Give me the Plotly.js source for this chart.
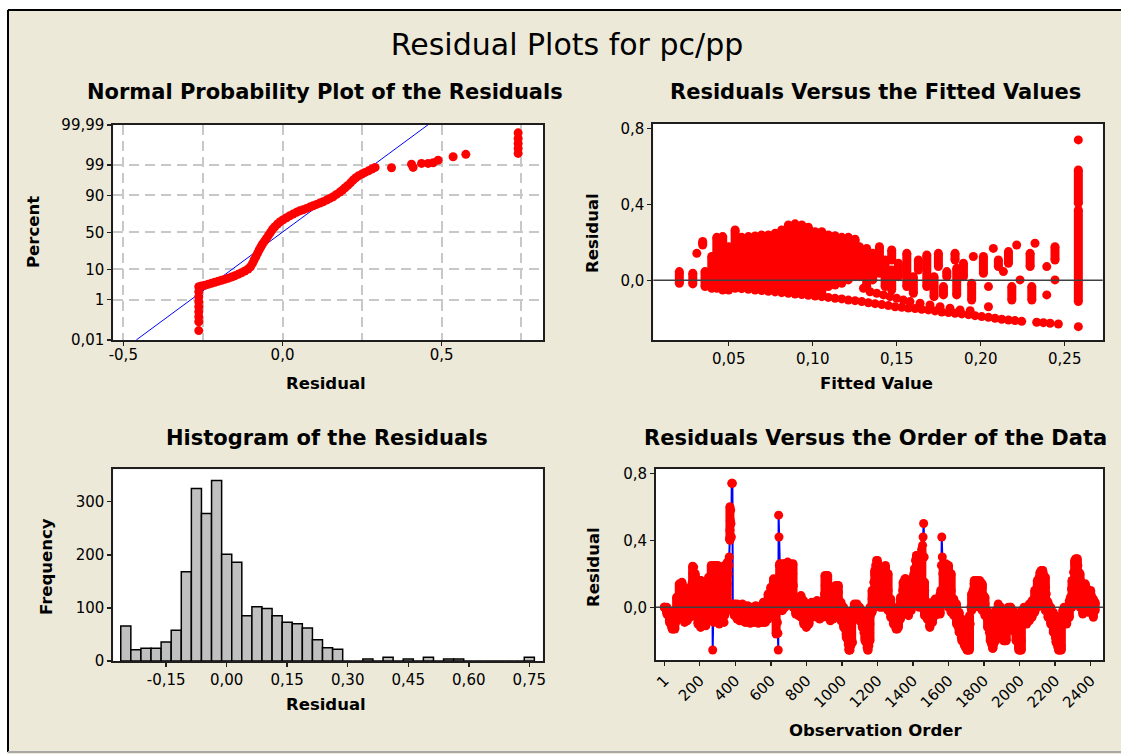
<!DOCTYPE html>
<html><head><meta charset="utf-8">
<script src="https://cdn.plot.ly/plotly-3.0.1.min.js"></script>
<style>html,body{margin:0;padding:0;background:#fff;}#chart{width:1121px;height:754px;}</style>
</head><body><div id="chart"></div>
<script>
// ---------------- DATA ----------------
const mainTitle = 'Residual Plots for pc/pp';
const panelTitles = ['Normal Probability Plot of the Residuals','Residuals Versus the Fitted Values','Histogram of the Residuals','Residuals Versus the Order of the Data'];

// Normal probability plot: residual vs cumulative percent
const npResid = [-0.263,-0.263,-0.263,-0.263,-0.263,-0.263,-0.263,-0.263,-0.263,
 -0.2544,-0.2440,-0.2337,-0.2230,-0.2126,-0.2023,-0.1916,-0.1812,-0.1709,-0.1602,-0.1498,-0.1394,-0.1288,-0.1184,-0.1080,-0.1005,
 -0.0942,-0.0892,-0.0839,-0.0785,-0.0735,-0.0682,-0.0628,-0.0565,-0.0503,-0.0440,-0.0377,-0.0314,-0.0242,-0.0157,-0.0075,
 0.0019,0.0126,0.0229,0.0333,0.0440,0.0543,0.0647,0.0754,0.0857,0.0961,0.1068,0.1171,0.1275,0.1382,0.1486,0.1589,0.1696,0.1800,
 0.1884,0.1966,0.2051,0.2136,0.2217,0.2302,0.2387,0.2491,0.2594,0.2701,0.2805,0.2908,
 0.3423,0.4052,0.4102,0.4366,0.4573,0.4730,0.4887,0.5358,0.5757,0.74,0.74,0.74,0.74,0.74];
const npPct = [0.034,0.10,0.178,0.304,0.508,0.826,1.30,2.01,3.01,
 3.18,3.36,3.62,3.90,4.21,4.52,4.87,5.22,5.60,6.13,6.69,7.34,8.14,9.06,10.24,11.74,
 14.21,16.93,19.96,23.42,27.06,30.57,34.31,38.17,41.80,45.86,50.00,54.14,57.65,61.29,64.28,
 66.82,69.29,71.67,73.63,75.52,77.22,78.26,79.64,80.90,82.10,83.32,84.42,85.47,86.78,87.98,89.07,90.54,91.80,
 92.80,93.83,94.77,95.66,96.46,97.04,97.47,97.80,98.09,98.33,98.56,98.76,
 98.72,99.08,98.76,99.14,99.14,99.19,99.37,99.55,99.65,99.971,99.942,99.894,99.815,99.682];
const npFitResid = [-0.459, 0.457];
const npFitPct = [0.01, 99.99];
const npTickPct = [0.01,1,10,50,90,99,99.99];
const npTickText = ['0,01','1','10','50','90','99','99,99'];
const npXTicks = [-0.5,0,0.5];
const npXText = ['-0,5','0,0','0,5'];
const npXGrid = [-0.5,-0.25,0,0.25,0.5,0.75];

// Residuals vs fitted: vertical runs of stacked points (fitted value, top residual, bottom residual)
const fvColX  = [0.0206,0.0286,0.0345,0.0359,0.0399,0.0429,0.0464,0.0500,0.0538,0.0577,0.0617,0.0657,0.0696,0.0736,0.0776,0.0815,0.0855,0.0895,0.0935,0.0974,0.1014,0.1054,0.1093,0.1133,0.1173,0.1212,0.1252,
 0.1278,0.1321,0.1357,0.1397,0.1431,0.1470,0.1470,0.1510,0.1560,0.1599,0.1629,0.1679,0.1722,0.1748,0.1778,0.1798,0.1847,0.1857,0.1897,0.1946,0.2016,0.2105,0.2165,0.2185,0.2294,0.2304,0.2442,0.2581,0.2581];
const fvColHi = [0.046,0.037,0.204,0.046,0.125,0.226,0.230,0.177,0.265,0.226,0.230,0.233,0.239,0.239,0.247,0.265,0.291,0.297,0.291,0.279,0.256,0.256,0.239,0.235,0.226,0.226,0.216,
 0.177,0.168,0.142,0.177,0.107,0.160,0.054,0.090,0.142,0.019,0.107,0.133,0.019,0.142,-0.033,0.046,0.142,0.063,0.090,-0.016,0.125,0.107,0.151,-0.033,0.142,-0.033,0.177,0.581,0.370];
const fvColLo = [-0.016,-0.019,0.186,-0.033,-0.042,-0.042,-0.051,-0.051,-0.042,-0.044,-0.047,-0.051,-0.054,-0.058,-0.061,-0.065,-0.068,-0.072,-0.075,-0.079,-0.083,-0.086,-0.033,-0.025,-0.016,0.002,0.019,
 0.019,-0.033,0.002,0.037,-0.033,0.107,-0.051,0.019,-0.033,-0.068,0.054,-0.033,-0.086,0.072,-0.077,0.019,0.107,-0.077,0.019,-0.104,0.037,0.072,0.090,-0.104,0.072,-0.104,0.107,0.405,-0.112];
// single points
const fvDotX = [0.0310,0.1956,0.2046,0.2046,0.2075,0.2135,0.2214,0.2234,0.2323,0.2393,0.2393,0.2442,0.2581,0.2581,
 0.1093,0.1133,0.1173,0.1212,0.1252,0.1292,0.1331,0.1371,0.1411,0.1450,0.1490,0.1530,0.1569,0.1609,0.1649,0.1688,0.1728,0.1768,0.1808,0.1847,0.1887,0.1927,0.1966,0.2006,0.2046,0.2085,0.2125,0.2165,0.2204,0.2244,0.2333,0.2373,0.2413,0.2462,
 0.1302,0.1341,0.1381,0.1421,0.1460,0.1500,0.1540,0.1579,0.1639,0.1698,0.1758,0.1817,0.1877,0.1937];
const fvDotY = [0.142,0.125,-0.033,-0.139,0.168,0.046,0.186,0.002,0.195,0.072,-0.077,0.002,0.739,-0.244,
 -0.090,-0.095,-0.098,-0.104,-0.107,-0.112,-0.118,-0.123,-0.128,-0.133,-0.139,-0.142,-0.146,-0.149,-0.153,-0.156,-0.161,-0.167,-0.170,-0.174,-0.177,-0.181,-0.186,-0.191,-0.195,-0.200,-0.205,-0.209,-0.212,-0.216,-0.221,-0.223,-0.226,-0.230,
 -0.042,-0.060,-0.068,-0.077,-0.086,-0.095,-0.104,-0.112,-0.121,-0.130,-0.139,-0.147,-0.156,-0.160];
const fvXTicks = [0.05,0.10,0.15,0.20,0.25];
const fvXText = ['0,05','0,10','0,15','0,20','0,25'];
const residTicks = [0,0.4,0.8];
const residText = ['0,0','0,4','0,8'];

// Histogram
const histBins = [-0.25,-0.225,-0.2,-0.175,-0.15,-0.125,-0.1,-0.075,-0.05,-0.025,0,0.025,0.05,0.075,0.1,0.125,0.15,0.175,0.2,0.225,0.25,0.275,0.3,0.325,0.35,0.375,0.4,0.425,0.45,0.475,0.5,0.525,0.55,0.575,0.6,0.625,0.65,0.675,0.7,0.725,0.75];
const histCounts = [66,21,24,24,36,58,168,325,278,340,201,186,85,102,99,85,73,70,62,40,25,22,0,0,4,0,7,0,4,0,7,0,4,4,0,0,0,0,0,0,7];
const histXTicks = [-0.15,0,0.15,0.30,0.45,0.60,0.75];
const histXText = ['-0,15','0,00','0,15','0,30','0,45','0,60','0,75'];
const histYTicks = [0,100,200,300];
const histYText = ['0','100','200','300'];

// Residuals vs order: the connected sequence (spikes, individual jumps)
const orderObs = [
 1,8,15,22,29,36,43,50,57,64,70,76,82,88,94,100,106,112,118,124,130,136,142,
 146,150,154,158,162,166,170,174,178,182,
 186,190,195,200,205,210,215,220,225,230,235,240,245,250,255,260,264,268,271,273,
 277,282,287,292,297,302,307,312,317,322,327,332,337,342,347,352,356,360,364,
 366,368,370,372,374,376,378,380,384,386,
 390,400,410,420,430,440,450,460,470,480,490,500,510,520,530,540,550,560,570,580,590,600,606,612,618,622,626,630,634,637,640,642,644,646,648,
 652,656,660,664,668,672,676,680,685,690,695,700,705,710,715,720,724,727,730,735,
 740,748,756,764,772,780,788,796,804,812,820,828,836,844,852,860,868,876,884,892,898,
 902,906,910,914,918,922,926,930,934,940,946,
 952,958,964,968,972,976,980,984,988,994,1000,1006,1012,1018,1024,1030,1036,1040,1046,1050,1052,1054,1056,1058,1060,1064,1070,1078,1086,1094,1102,1110,1118,1124,1130,1136,1142,1148,1152,1156,1158,1160,
 1165,1170,1175,1180,1185,1190,1195,1200,1205,1210,1215,1220,1225,1230,1235,1240,1245,1250,1255,1260,1265,1270,1276,1282,1290,1298,1306,1312,1318,
 1324,1330,1336,1342,1348,1354,1360,1366,1372,1378,1384,1390,1396,1402,1408,1414,1420,1426,1432,1438,1442,1446,1450,1454,1457,1460,1463,1466,1470,
 1478,1486,1494,1502,1510,1518,1526,1534,1542,1550,
 1556,1560,1562,1565,1568,1572,1576,1580,1585,1590,1595,1600,1605,1610,1615,1620,1626,
 1632,1640,1648,1656,1664,1672,1680,1688,1696,1704,1712,1718,1722,1726,
 1732,1738,1744,1750,1758,1766,1774,1782,1790,1798,1806,1812,
 1818,1824,1830,1836,1842,1848,1854,1860,1866,1872,
 1880,1888,1896,1904,1910,1916,1922,1928,1934,1940,
 1948,1956,1964,1972,1980,1988,1994,2000,2006,2010,2014,2018,
 2026,2034,2042,2050,2058,2066,2074,2080,2086,2092,2098,2104,2110,2116,2122,2128,2134,2140,2146,2150,2154,
 2160,2166,2172,2178,2184,2190,2196,2202,2208,2214,2220,2228,2234,2238,2242,
 2250,2258,2266,2274,2280,
 2286,2292,2298,2304,2310,2316,2322,2328,2334,2340,2346,2352,2356,
 2362,2368,2374,2380,2386,2392,2398,2404,2410,2416,2420,2425];
const orderResid = [
 0,-0.01,-0.03,-0.05,-0.08,-0.10,-0.12,-0.13,-0.12,-0.09,-0.05,-0.01,0.03,0.07,0.11,0.14,0.12,0.08,0.05,0.02,-0.01,-0.03,-0.05,
 0,0.05,0.10,0.15,0.20,0.24,0.20,0.15,0.10,0.05,
 0,0.04,0.08,0.12,0.16,0.11,0.06,0.01,-0.04,-0.08,-0.11,-0.07,-0.02,0.03,0.08,0.12,0.16,0.21,0.25,-0.255,
 0,0.05,0.10,0.15,0.20,0.25,0.20,0.15,0.10,0.05,0,-0.05,-0.09,-0.04,0.02,0.08,0.14,0.20,0.25,
 0.30,0.41,0.46,0.52,0.58,0.50,0.42,0.74,0.74,0.02,
 0.01,-0.01,0,-0.03,-0.05,-0.03,-0.06,-0.08,-0.05,-0.07,-0.09,-0.06,-0.08,-0.05,-0.07,-0.09,-0.06,-0.04,-0.07,-0.03,0,0.04,0.08,0.12,0.16,0.13,0.08,0.03,-0.03,-0.09,-0.155,-0.255,0.55,0.42,0.25,
 0.20,0.15,0.10,0.05,0.10,0.16,0.22,0.26,0.22,0.17,0.22,0.26,0.22,0.18,0.22,0.25,0.20,0.13,0.03,0,
 -0.02,0.02,0.05,0.06,0.04,0,-0.05,-0.09,-0.11,-0.08,-0.04,-0.01,0.01,0,-0.03,0,0.02,-0.02,-0.05,-0.02,0.03,
 0.08,0.13,0.18,0.19,0.15,0.10,0.05,0,-0.05,-0.02,0.02,
 0,-0.05,0,0.05,0.10,0.13,0.09,0.04,0,-0.04,-0.06,-0.09,-0.10,-0.13,-0.16,-0.19,-0.22,-0.255,-0.255,-0.23,-0.17,-0.11,-0.05,-0.02,-0.21,-0.02,0,-0.02,-0.04,-0.07,-0.05,-0.09,-0.12,-0.15,-0.18,-0.21,-0.24,-0.255,-0.23,-0.15,-0.10,-0.05,
 0,0.05,0.10,0.15,0.20,0.25,0.28,0.27,0.23,0.18,0.13,0.08,0.04,0.10,0.16,0.21,0.24,0.20,0.15,0.10,0.05,0,-0.03,-0.06,-0.08,-0.10,-0.12,-0.13,-0.10,
 -0.05,0,0.05,0.10,0.14,0.17,0.13,0.08,0.03,-0.01,0.03,0.08,0.13,0.18,0.23,0.28,0.31,0.27,0.22,0.17,0.22,0.27,0.33,0.37,0.42,0.50,0.30,0.10,0.03,
 -0.02,-0.06,-0.11,-0.08,-0.04,-0.01,0.02,0.03,0,0.02,
 0.10,0.25,0.42,0.30,0.20,0.12,0.06,0.12,0.18,0.22,0.25,0.21,0.17,0.13,0.10,0.05,0,
 0,-0.04,-0.08,-0.12,-0.15,-0.18,-0.20,-0.22,-0.24,-0.255,-0.255,-0.22,-0.10,0,
 0.05,0.10,0.14,0.16,0.12,0.08,0.12,0.15,0.12,0.07,0.02,-0.03,
 -0.07,-0.11,-0.15,-0.19,-0.22,-0.245,-0.22,-0.15,-0.08,-0.03,
 0,-0.04,-0.09,-0.14,-0.18,-0.20,-0.17,-0.12,-0.07,-0.02,
 0,-0.04,-0.08,-0.12,-0.16,-0.20,-0.235,-0.255,-0.255,-0.20,-0.10,-0.02,
 -0.04,-0.02,-0.06,-0.03,0,-0.03,0,0.03,0.06,0.09,0.12,0.15,0.18,0.20,0.22,0.22,0.20,0.16,0.12,0.08,0.04,
 0,-0.04,-0.07,-0.05,-0.09,-0.12,-0.15,-0.18,-0.21,-0.235,-0.255,-0.255,-0.23,-0.10,-0.02,
 -0.05,-0.08,-0.05,-0.02,0.02,
 0.06,0.11,0.16,0.21,0.26,0.29,0.28,0.25,0.21,0.17,0.14,0.10,0.06,
 0.10,0.13,0.12,0.08,0.04,0.06,0.09,0.07,0.02,-0.03,0,0.02];
// Residuals vs order: spread (lowest / highest residual) of the densely packed points around each observation
const bandObs = [
 1,15,30,45,60,70,85,100,115,130,145,160,175,190,205,220,235,250,265,280,295,310,325,340,355,370,
 395,410,425,440,455,470,485,500,515,530,545,558,
 570,585,600,615,630,
 650,665,680,695,710,725,740,
 755,770,785,800,815,830,845,860,875,890,
 905,920,935,
 950,965,980,995,1010,1025,
 1040,1055,1070,
 1085,1100,1115,1130,1145,1158,
 1170,1185,1200,1215,1230,1245,1260,1275,
 1290,1305,1318,
 1330,1345,1360,1375,1390,
 1405,1420,1435,1450,1465,
 1480,1495,1510,1525,1540,1553,
 1570,1585,1600,1615,1630,
 1645,1660,1675,1690,1705,1718,
 1730,1745,1760,1775,1790,1805,
 1820,1835,1850,1865,
 1880,1895,1910,1925,1937,
 1950,1965,1980,1995,
 2010,2025,2040,2055,
 2070,2085,2100,2115,2130,2145,
 2160,2175,2190,2205,2220,2235,
 2250,2265,2280,
 2295,2310,2325,2340,
 2355,2370,2385,2400,2415,2425];
const bandLo = [
 0,-0.04,-0.09,-0.13,-0.13,-0.08,-0.04,-0.05,-0.09,-0.08,-0.06,-0.04,-0.05,-0.10,-0.12,-0.11,-0.09,-0.06,-0.08,-0.09,-0.06,-0.10,-0.08,-0.05,-0.02,0.40,
 -0.05,-0.07,-0.08,-0.08,-0.09,-0.09,-0.095,-0.09,-0.09,-0.095,-0.09,-0.09,
 -0.09,-0.07,-0.04,-0.02,-0.16,
 0.05,-0.02,0,0.02,0.05,0,-0.04,
 -0.05,-0.06,-0.10,-0.12,-0.10,-0.06,-0.05,-0.06,-0.07,-0.06,
 -0.04,-0.06,-0.08,
 -0.07,-0.06,-0.05,-0.08,-0.12,-0.18,
 -0.255,-0.20,-0.06,
 -0.06,-0.08,-0.12,-0.20,-0.255,-0.20,
 -0.03,0,0.02,0,0,0.02,-0.02,-0.06,
 -0.10,-0.13,-0.12,
 -0.07,-0.04,-0.03,-0.05,-0.02,
 0.02,0.05,0,0,-0.05,
 -0.07,-0.12,-0.09,-0.05,-0.04,-0.04,
 0.05,0.03,0,-0.03,-0.05,
 -0.10,-0.15,-0.20,-0.23,-0.255,-0.255,
 -0.02,0,0.02,0,-0.02,-0.05,
 -0.12,-0.20,-0.245,-0.20,
 -0.08,-0.14,-0.20,-0.20,-0.10,
 -0.10,-0.14,-0.20,-0.255,
 -0.255,-0.08,-0.10,-0.08,
 -0.06,-0.03,0,0.02,0.02,-0.02,
 -0.06,-0.10,-0.15,-0.21,-0.255,-0.255,
 -0.10,-0.10,-0.06,
 0,0.05,0.08,0,
 -0.04,-0.02,-0.03,-0.02,-0.06,-0.02];
const bandHi = [
 0,0,-0.02,-0.04,-0.03,0.06,0.14,0.15,0.08,0.04,0.12,0.245,0.20,0.15,0.16,0.13,0.15,0.18,0.25,0.25,0.25,0.24,0.22,0.25,0.27,0.60,
 0.02,0.02,0.01,0.02,0,0.01,0,0,0.01,0,0.01,0.03,
 0.03,0.08,0.12,0.17,0.14,
 0.26,0.26,0.26,0.27,0.26,0.26,0.05,
 0.06,0.07,0.04,0,0.02,0.03,0.03,0.04,0.02,0.04,
 0.19,0.19,0.04,
 0.03,0.13,0.13,0.03,0,-0.04,
 -0.12,-0.02,0.02,
 0.02,0,-0.02,-0.06,-0.12,0,
 0.10,0.22,0.28,0.20,0.20,0.25,0.20,0.05,
 0,-0.02,0,
 0.06,0.15,0.17,0.10,0.12,
 0.20,0.31,0.30,0.35,0.15,
 0.03,0,0.03,0.05,0.05,0.08,
 0.26,0.26,0.25,0.20,0.05,
 0.02,-0.03,-0.07,-0.10,-0.14,-0.05,
 0.08,0.16,0.16,0.16,0.14,0.06,
 -0.02,-0.06,-0.12,-0.02,
 0.02,0,-0.05,-0.04,0,
 0,-0.02,-0.06,-0.10,
 -0.02,0,0,0.02,
 0.04,0.10,0.16,0.21,0.22,0.18,
 0.03,0,-0.03,-0.08,-0.12,-0.05,
 0,-0.01,0.04,
 0.16,0.28,0.29,0.20,
 0.14,0.14,0.10,0.10,0.05,0.03];
const orderXTicks = [1,200,400,600,800,1000,1200,1400,1600,1800,2000,2200,2400];
const orderXText = ['1','200','400','600','800','1000','1200','1400','1600','1800','2000','2200','2400'];

// ---------------- RENDER ----------------
const W = 1121, H = 754;
const FONT = '"DejaVu Sans", Verdana, sans-serif';
const px = v => v / W;
const py = v => 1 - v / H;

function normInv(p){
  const a=[-3.969683028665376e+01,2.209460984245205e+02,-2.759285104469687e+02,1.383577518672690e+02,-3.066479806614716e+01,2.506628277459239e+00];
  const b=[-5.447609879822406e+01,1.615858368580409e+02,-1.556989798598866e+02,6.680131188771972e+01,-1.328068155288572e+01];
  const c=[-7.784894002430293e-03,-3.223964580411365e-01,-2.400758277161838e+00,-2.549732539343734e+00,4.374664141464968e+00,2.938163982698783e+00];
  const d=[7.784695709041462e-03,3.224671290700398e-01,2.445134137142996e+00,3.754408661907416e+00];
  const pl=0.02425, ph=1-pl; let q,r;
  if(p<pl){q=Math.sqrt(-2*Math.log(p));return (((((c[0]*q+c[1])*q+c[2])*q+c[3])*q+c[4])*q+c[5])/((((d[0]*q+d[1])*q+d[2])*q+d[3])*q+1);}
  if(p>ph){q=Math.sqrt(-2*Math.log(1-p));return -(((((c[0]*q+c[1])*q+c[2])*q+c[3])*q+c[4])*q+c[5])/((((d[0]*q+d[1])*q+d[2])*q+d[3])*q+1);}
  q=p-0.5;r=q*q;return (((((a[0]*r+a[1])*r+a[2])*r+a[3])*r+a[4])*r+a[5])*q/(((((b[0]*r+b[1])*r+b[2])*r+b[3])*r+b[4])*r+1);
}
const probScale = pcts => pcts.map(p => normInv(p / 100));

function runs(xs, lo, hi){
  const X = [], Y = [];
  xs.forEach((x, i) => { X.push(x, x, null); Y.push(lo[i], hi[i], null); });
  return {X, Y};
}
const fvRuns = runs(fvColX, fvColLo, fvColHi);
const bandRuns = runs(bandObs, bandLo, bandHi);

const RED = '#FF0000', BLUE = '#0000FF', FRAME = '#1e1e1e', MS = 9;
const traces = [
  {type:'scatter', mode:'lines', x:npFitResid, y:probScale(npFitPct), xaxis:'x', yaxis:'y',
   line:{color:BLUE, width:1}},
  {type:'scatter', mode:'markers', x:npResid, y:probScale(npPct), xaxis:'x', yaxis:'y',
   marker:{color:RED, size:MS}},
  {type:'scatter', mode:'lines+markers', x:fvRuns.X, y:fvRuns.Y, xaxis:'x2', yaxis:'y2', connectgaps:false,
   line:{color:RED, width:MS}, marker:{color:RED, size:MS}},
  {type:'scatter', mode:'markers', x:fvDotX, y:fvDotY, xaxis:'x2', yaxis:'y2',
   marker:{color:RED, size:MS}},
  {type:'bar', x:histBins, y:histCounts, xaxis:'x3', yaxis:'y3', width:0.025,
   marker:{color:'#C0C0C0', line:{color:'#000', width:1.5}}},
  {type:'scatter', mode:'lines', x:orderObs, y:orderResid, xaxis:'x4', yaxis:'y4',
   line:{color:BLUE, width:2}},
  {type:'scatter', mode:'lines+markers', x:bandRuns.X, y:bandRuns.Y, xaxis:'x4', yaxis:'y4', connectgaps:false,
   line:{color:RED, width:MS}, marker:{color:RED, size:MS}},
  {type:'scatter', mode:'markers', x:orderObs, y:orderResid, xaxis:'x4', yaxis:'y4',
   marker:{color:RED, size:MS}}
];

function ax(extra){
  return Object.assign({showline:true, mirror:true, linecolor:FRAME, linewidth:2,
    ticks:'outside', ticklen:4, tickwidth:1.5, tickcolor:FRAME, showgrid:false, zeroline:false,
    tickmode:'array', tickfont:{family:FONT, size:15, color:'#000'}, fixedrange:true, automargin:false}, extra);
}
const GRID = {showgrid:true, gridcolor:'#C8C8C8', griddash:'10px,6px', gridwidth:2};
const npY = probScale(npTickPct);
const npXGridText = npXGrid.map(v => { const i = npXTicks.indexOf(v); return i >= 0 ? npXText[i] : ''; });

const layout = {
  width:W, height:H, margin:{l:0,r:0,t:0,b:0}, showlegend:false,
  paper_bgcolor:'#ECE9D8', plot_bgcolor:'#FFFFFF', bargap:0,
  title:{text:mainTitle, x:px(567), xanchor:'center', y:py(44), yanchor:'middle',
         font:{family:FONT, size:30, color:'#000'}},
  xaxis: ax(Object.assign({domain:[px(113.3),px(543.3)], anchor:'y', range:[-0.5314,0.819],
          tickvals:npXGrid, ticktext:npXGridText, ticks:'',
          minor:{tickmode:'array', tickvals:npXTicks, ticks:'outside', ticklen:4, tickwidth:1.5, tickcolor:FRAME, showgrid:false}}, GRID)),
  yaxis: ax(Object.assign({domain:[py(340),py(124.7)], anchor:'x', range:[npY[0]-0.003, npY[npY.length-1]+0.003],
          tickvals:npY, ticktext:npTickText}, GRID)),
  xaxis2: ax({domain:[px(653.3),px(1102.7)], anchor:'y2', range:[0.0051,0.2726], tickvals:fvXTicks, ticktext:fvXText}),
  yaxis2: ax({domain:[py(340),py(124)], anchor:'x2', range:[-0.3142,0.8226], tickvals:residTicks, ticktext:residText}),
  xaxis3: ax({domain:[px(113.3),px(542.5)], anchor:'y3', range:[-0.281,0.7827], tickvals:histXTicks, ticktext:histXText}),
  yaxis3: ax({domain:[py(661),py(469.3)], anchor:'x3', range:[0,361], tickvals:histYTicks, ticktext:histYText}),
  xaxis4: ax({domain:[px(656),px(1103.3)], anchor:'y4', range:[-46,2471], tickvals:orderXTicks, ticktext:orderXText, tickangle:-45}),
  yaxis4: ax({domain:[py(660),py(469)], anchor:'x4', range:[-0.3146,0.8257], tickvals:residTicks, ticktext:residText}),
  shapes:[
    {type:'rect', xref:'paper', yref:'paper', x0:0, x1:1, y0:py(9), y1:1, fillcolor:'#FFFFFF', line:{width:0}, layer:'below'},
    {type:'rect', xref:'paper', yref:'paper', x0:0, x1:px(7), y0:0, y1:1, fillcolor:'#FFFFFF', line:{width:0}, layer:'below'},
    {type:'line', xref:'paper', yref:'paper', x0:px(8), x1:1, y0:py(10), y1:py(10), line:{color:'#000', width:2}},
    {type:'line', xref:'paper', yref:'paper', x0:px(8), x1:px(8), y0:py(752), y1:py(10), line:{color:'#000', width:2}},
    {type:'line', xref:'paper', yref:'paper', x0:px(8), x1:1, y0:py(752), y1:py(752), line:{color:'#A8A8A8', width:2}},
    {type:'line', xref:'x2 domain', yref:'y2', x0:0, x1:1, y0:0, y1:0, line:{color:'#404040', width:1.5}, layer:'above'},
    {type:'line', xref:'x4 domain', yref:'y4', x0:0, x1:1, y0:0, y1:0, line:{color:'#404040', width:1.5}, layer:'above'}
  ],
  annotations:[]
};

function ann(text, x, y, size, angle){
  layout.annotations.push({text:text, xref:'paper', yref:'paper', x:px(x), y:py(y), xanchor:'center', yanchor:'middle',
    showarrow:false, textangle:angle||0, font:{family:FONT, size:size, color:'#000'}});
}
ann('<b>'+panelTitles[0]+'</b>', 325, 92, 21);
ann('<b>'+panelTitles[1]+'</b>', 875, 92, 21);
ann('<b>'+panelTitles[2]+'</b>', 327, 438, 21);
ann('<b>'+panelTitles[3]+'</b>', 875, 438, 21);
ann('<b>Residual</b>', 326, 383, 16.5);
ann('<b>Percent</b>', 33, 232, 16.5, -90);
ann('<b>Fitted Value</b>', 876, 383, 16.5);
ann('<b>Residual</b>', 592, 233, 16.5, -90);
ann('<b>Residual</b>', 326, 704, 16.5);
ann('<b>Frequency</b>', 46, 567, 16.5, -90);
ann('<b>Observation Order</b>', 875, 730, 16.5);
ann('<b>Residual</b>', 593, 567, 16.5, -90);

Plotly.newPlot('chart', traces, layout, {staticPlot:true, displayModeBar:false});
</script></body></html>
